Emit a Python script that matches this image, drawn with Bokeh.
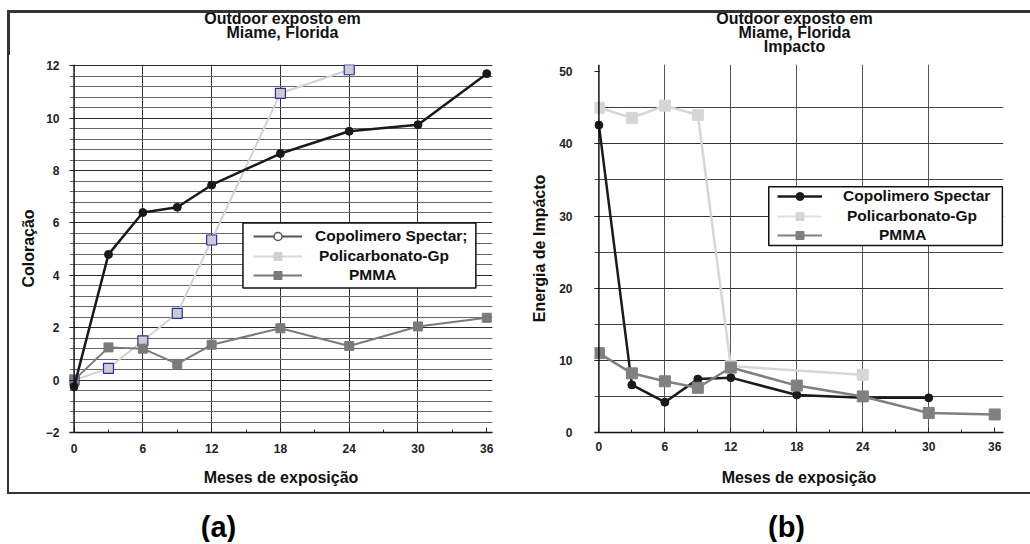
from bokeh.plotting import figure
from bokeh.models import (Range1d, SingleIntervalTicker, FixedTicker, BoxAnnotation, Span,
                          Legend, LegendItem, Spacer)
from bokeh.layouts import row, column
from bokeh.embed import file_html
from bokeh.resources import INLINE

FONT = "Liberation Sans"
NAN = float("nan")
EDGE = "#333333"

# ---------------- data ----------------
months = [0, 3, 6, 9, 12, 18, 24, 30, 36]
x_grid = [6, 12, 18, 24, 30]

# (a) Coloracao
a_spectar = [-0.25, 4.8, 6.4, 6.6, 7.45, 8.65, 9.5, 9.75, 11.7]
a_pc_months = [0, 3, 6, 9, 12, 18, 24]
a_pc = [0.0, 0.45, 1.5, 2.55, 5.35, 10.95, 11.85]
a_pmma = [0.0, 1.25, 1.2, 0.62, 1.35, 1.98, 1.3, 2.05, 2.38]

# (b) Energia de Impacto
b_sp_months = [0, 3, 6, 9, 12, 18, 24, 30]
b_spectar = [42.6, 6.6, 4.2, 7.4, 7.6, 5.2, 4.8, 4.8]
b_pc_months = [0, 3, 6, 9, 12, 24]
b_pc = [45.0, 43.6, 45.3, 44.0, 9.2, 8.0]
b_pmma = [11.0, 8.2, 7.1, 6.2, 9.0, 6.5, 5.0, 2.7, 2.5]

labels_a = ["Copolimero Spectar;", "Policarbonato-Gp", "PMMA"]
labels_b = ["Copolimero Spectar", "Policarbonato-Gp", "PMMA"]
title_a = ["Outdoor exposto em", "Miame, Florida"]
title_b = ["Outdoor exposto em", "Miame, Florida", "Impacto"]
panel_labels = ["(a)", "(b)"]

BLACK = "#1a1a1a"
LIGHT = "#d2d2d2"
GRAY = "#7a7a7a"


def style_axes(p, ylabel, y_ticker, xl_standoff, yl_standoff, xt_standoff, yt_standoff):
    p.xaxis.ticker = SingleIntervalTicker(interval=6, num_minor_ticks=2)
    p.yaxis.ticker = y_ticker
    p.xaxis.axis_label = "Meses de exposição"
    p.yaxis.axis_label = ylabel
    for ax in (p.xaxis[0], p.yaxis[0]):
        ax.major_label_text_font = FONT
        ax.major_label_text_font_style = "bold"
        ax.major_label_text_font_size = "12px"
        ax.major_label_text_color = "#222222"
        ax.axis_label_text_font = FONT
        ax.axis_label_text_font_style = "bold"
        ax.axis_label_text_font_size = "16px"
        ax.axis_label_text_color = "#111111"
        ax.major_tick_out = 0
        ax.minor_tick_out = 0
        ax.major_tick_line_color = "#222222"
        ax.minor_tick_line_color = "#222222"
    p.xaxis.major_tick_in = 5
    p.xaxis.minor_tick_in = 3
    p.yaxis.minor_tick_in = 0
    p.yaxis.major_tick_in = 5
    p.xaxis.axis_line_color = "#111111"
    p.xaxis.axis_line_width = 1.5
    p.yaxis.axis_line_color = None
    p.xaxis.major_label_standoff = xt_standoff
    p.yaxis.major_label_standoff = yt_standoff
    p.xaxis.axis_label_standoff = xl_standoff
    p.yaxis.axis_label_standoff = yl_standoff
    p.add_layout(Span(location=0, dimension="height", line_color="#111111", line_width=1.5))
    p.outline_line_color = None
    p.background_fill_color = "white"
    p.border_fill_color = "white"


def blank(width, height):
    f = figure(width=width, height=height, x_range=Range1d(0, width),
               y_range=Range1d(height, 0), min_border=0, output_backend="svg",
               toolbar_location=None, title=None)
    f.axis.visible = False
    f.grid.visible = False
    f.outline_line_color = None
    f.background_fill_color = "white"
    f.border_fill_color = "white"
    return f


def edge(f, left, right, top, bottom):
    f.add_layout(BoxAnnotation(left=left, right=right, top=top, bottom=bottom,
                               fill_color=EDGE, fill_alpha=1, line_color=EDGE,
                               line_alpha=1, line_width=1))


def add_title(t, lines, cx):
    t.text(x=[cx] * len(lines), y=[18 + 14 * i for i in range(len(lines))], text=lines,
           text_align="center", text_baseline="middle", text_font={"value": FONT},
           text_font_style="bold", text_font_size="16px", text_color="#111111")


def add_legend(p, entries, x, ys, standoffs, glyph_w, box):
    l, r, b, t = box
    p.add_layout(BoxAnnotation(left=l, right=r, bottom=b, top=t, fill_color="white",
                               fill_alpha=1, line_color="#111111", line_alpha=1,
                               line_width=1.5))
    for (label, rends), y, so in zip(entries, ys, standoffs):
        leg = Legend(items=[LegendItem(label=label, renderers=rends)], location=(x, y),
                     glyph_width=glyph_w, glyph_height=20, label_standoff=so, label_height=20,
                     padding=0, margin=0, spacing=0, border_line_color=None,
                     background_fill_alpha=0, label_text_font=FONT,
                     label_text_font_style="bold", label_text_font_size="15.5px",
                     label_text_color="#111111")
        p.add_layout(leg, "center")


def proxy(p, line_color, line_width, marker, size, fill, edge_c, edge_w=1.0):
    return [p.line([NAN], [NAN], line_color=line_color, line_width=line_width),
            p.scatter([NAN], [NAN], marker=marker, size=size, fill_color=fill,
                      line_color=edge_c, line_width=edge_w)]


# ---------------- (a) ----------------
p1 = figure(width=511, height=437, x_range=Range1d(-0.4, 36.5), y_range=Range1d(-2, 12.05),
            min_border=0, min_border_left=60, min_border_right=28, min_border_top=9,
            min_border_bottom=60, output_backend="svg", toolbar_location=None, title=None)
style_axes(p1, "Coloração", SingleIntervalTicker(interval=2, num_minor_ticks=5),
           xl_standoff=13, yl_standoff=6, xt_standoff=11, yt_standoff=10)
p1.xgrid.ticker = FixedTicker(ticks=x_grid)
p1.xgrid.grid_line_color = "#333333"
p1.ygrid.ticker = FixedTicker(ticks=[0, 2, 4, 6, 8, 10, 12],
                              minor_ticks=[round(-2 + 0.4 * i, 1) for i in range(36) if i % 5])
p1.ygrid.grid_line_color = "#2a2a2a"
p1.ygrid.minor_grid_line_color = "#666666"

p1.line(a_pc_months, a_pc, line_color=LIGHT, line_width=2)
p1.scatter(a_pc_months, a_pc, marker="square", size=10, fill_color="#cccccc",
           line_color="#2b2bb0", line_width=1.2)
p1.line(months, a_pmma, line_color=GRAY, line_width=2)
p1.scatter(months, a_pmma, marker="square", size=9, fill_color=GRAY, line_color=GRAY)
p1.line(months, a_spectar, line_color=BLACK, line_width=2.5)
p1.scatter(months, a_spectar, marker="circle", size=8, fill_color=BLACK, line_color=BLACK)

la1 = proxy(p1, "#555555", 2, "circle", 7, "white", "#555555", 1.5)
la2 = proxy(p1, "#d8d8d8", 2, "square", 8, "#d0d0d0", "#d0d0d0")
la3 = proxy(p1, GRAY, 2, "square", 9, GRAY, GRAY)
add_legend(p1, list(zip(labels_a, [la1, la2, la3])), 184, [186, 166, 147], [13, 17, 47], 49,
           (14.73, 35.05, 3.52, 6.0))

# ---------------- (b) ----------------
p2 = figure(width=510, height=437, x_range=Range1d(-0.4, 36.8), y_range=Range1d(0, 51),
            min_border=0, min_border_left=74, min_border_right=27, min_border_top=9,
            min_border_bottom=60, output_backend="svg", toolbar_location=None, title=None)
style_axes(p2, "Energia de Impácto", SingleIntervalTicker(interval=10, num_minor_ticks=2),
           xl_standoff=15, yl_standoff=8, xt_standoff=9, yt_standoff=22)
p2.xgrid.ticker = FixedTicker(ticks=x_grid)
p2.xgrid.grid_line_color = "#555555"
p2.ygrid.ticker = FixedTicker(ticks=[10, 20, 30, 40], minor_ticks=[5, 15, 25, 35, 45])
p2.ygrid.grid_line_color = "#333333"
p2.ygrid.minor_grid_line_color = "#444444"

p2.line(b_pc_months, b_pc, line_color="#d6d6d6", line_width=2.5)
p2.scatter(b_pc_months, b_pc, marker="square", size=11, fill_color="#d6d6d6",
           line_color="#d6d6d6")
p2.line(b_sp_months, b_spectar, line_color=BLACK, line_width=2.5)
p2.scatter(b_sp_months, b_spectar, marker="circle", size=8, fill_color=BLACK, line_color=BLACK)
p2.line(months, b_pmma, line_color="#808080", line_width=2.5)
p2.scatter(months, b_pmma, marker="square", size=11, fill_color="#808080", line_color="#808080")

lb1 = proxy(p2, BLACK, 2.5, "circle", 5, BLACK, BLACK)
lb2 = proxy(p2, "#e0e0e0", 2, "square", 9, "#d6d6d6", "#d6d6d6")
lb3 = proxy(p2, "#808080", 2, "square", 8, "#808080", "#808080")
add_legend(p2, list(zip(labels_b, [lb1, lb2, lb3])), 183, [226, 206, 187], [21, 25, 57], 45,
           (15.45, 36.7, 25.9, 34.07))

# ---------------- title strip (with the top edge of the frame) ----------------
top = blank(1030, 55)
edge(top, 7, 1030, 10, 12)
edge(top, 7, 9, 10, 55)
add_title(top, title_a, 282)
add_title(top, title_b, 794)

# ---------------- panel labels ----------------
p3 = blank(1030, 48)
p3.text(x=[218, 786], y=[32, 32], text=panel_labels, text_align="center",
        text_baseline="middle", text_font={"value": FONT}, text_font_style="bold",
        text_font_size="29px", text_color="#000000")

LINE = {"background-color": EDGE}
middle = row(Spacer(width=7, height=437), Spacer(width=2, height=437, styles=LINE), p1, p2)
bottom_edge = row(Spacer(width=7, height=2), Spacer(width=1023, height=2, styles=LINE))
layout = column(top, middle, bottom_edge, p3)
open("out.html", "w").write(file_html(layout, INLINE))
